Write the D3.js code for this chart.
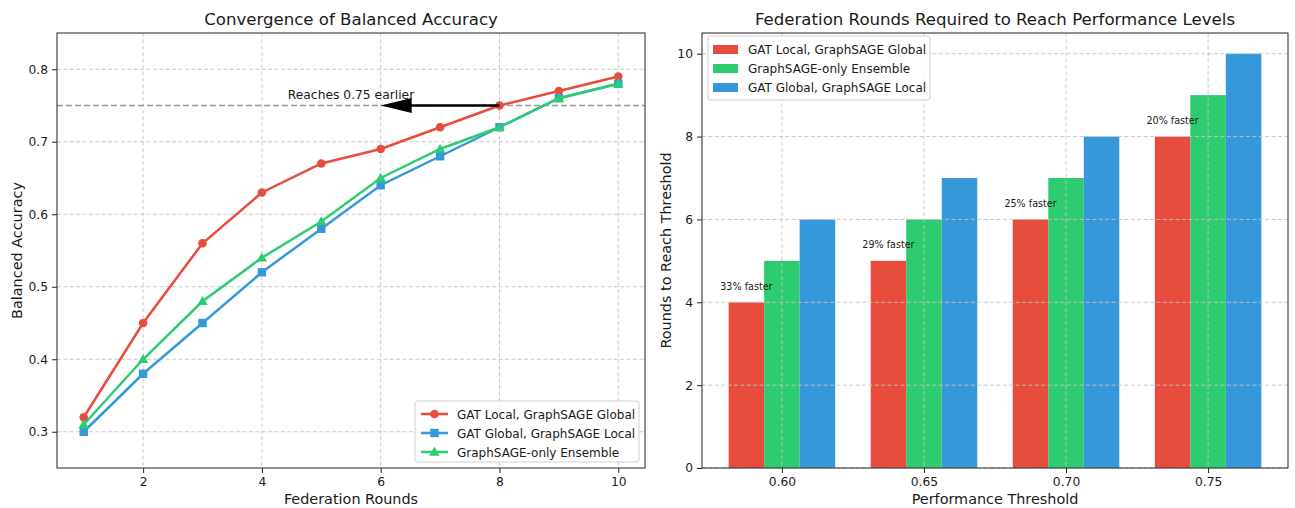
<!DOCTYPE html>
<html>
<head>
<meta charset="utf-8">
<script src="https://cdn.jsdelivr.net/npm/d3@7"></script>
<style>
  html, body { margin: 0; padding: 0; background: #fff; }
  svg { display: block; font-family: "DejaVu Sans", sans-serif; }
</style>
</head>
<body>
<svg id="chart" width="1295" height="508"></svg>
<script>
// ---------- Data ----------
const rounds = [1, 2, 3, 4, 5, 6, 7, 8, 9, 10];
const gatLocalAcc = [0.32, 0.45, 0.56, 0.63, 0.67, 0.69, 0.72, 0.75, 0.77, 0.79];
const gatGlobalAcc = [0.30, 0.38, 0.45, 0.52, 0.58, 0.64, 0.68, 0.72, 0.76, 0.78];
const sageOnlyAcc = [0.31, 0.40, 0.48, 0.54, 0.59, 0.65, 0.69, 0.72, 0.76, 0.78];
const lineSeriesNames = ["GAT Local, GraphSAGE Global", "GAT Global, GraphSAGE Local", "GraphSAGE-only Ensemble"];
const leftXTicks = [2, 4, 6, 8, 10];
const leftYTicks = [0.3, 0.4, 0.5, 0.6, 0.7, 0.8];
const targetAcc = 0.75;
const annotationText = "Reaches 0.75 earlier";
const arrowFrom = 8, arrowTo = 6;

const thresholds = ["0.60", "0.65", "0.70", "0.75"];
const barSeriesNames = ["GAT Local, GraphSAGE Global", "GraphSAGE-only Ensemble", "GAT Global, GraphSAGE Local"];
const gatLocalRounds = [4, 5, 6, 8];
const sageOnlyRounds = [5, 6, 7, 9];
const gatGlobalRounds = [6, 7, 8, 10];
const speedupLabels = ["33% faster", "29% faster", "25% faster", "20% faster"];
const rightYTicks = [0, 2, 4, 6, 8, 10];

const RED = "#e74c3c", BLUE = "#3498db", GREEN = "#2ecc71";
const svg = d3.select("#chart");
const GRID = "#c4c4c4";
const TXT = "#1a1a1a";

function grid(g, lines, horiz, x0, x1) {
  lines.forEach(v => {
    if (horiz) g.append("line").attr("x1", x0).attr("x2", x1).attr("y1", v).attr("y2", v);
    else g.append("line").attr("y1", x0).attr("y2", x1).attr("x1", v).attr("x2", v);
  });
  g.selectAll("line").attr("stroke", GRID).attr("stroke-width", 0.9).attr("stroke-dasharray", "4,2.4");
}

function styleAxis(g) {
  g.select(".domain").remove();
  g.selectAll(".tick line").attr("stroke", "#222").attr("stroke-width", 1);
  g.selectAll(".tick text").attr("fill", TXT).style("font-size", "12.3px").style("font-family", "DejaVu Sans, sans-serif");
}

// ---------- Left chart ----------
const L = { x0: 57, x1: 645, y0: 33, y1: 468 };
const xL = d3.scaleLinear().domain([0.55, 10.45]).range([L.x0, L.x1]);
const yL = d3.scaleLinear().domain([0.25, 0.85]).range([L.y1, L.y0]);

const gl = svg.append("g");
const gridL = gl.append("g");
grid(gridL, leftXTicks.map(xL), false, L.y0, L.y1);
const gridL2 = gl.append("g");
grid(gridL2, leftYTicks.map(yL), true, L.x0, L.x1);

// threshold line
gl.append("line").attr("x1", L.x0).attr("x2", L.x1).attr("y1", yL(targetAcc)).attr("y2", yL(targetAcc))
  .attr("stroke", "#999").attr("stroke-width", 1.6).attr("stroke-dasharray", "6,3");

const lineGen = d3.line().x((d, i) => xL(rounds[i])).y(d => yL(d));
const lineData = [
  { vals: gatLocalAcc, color: RED, marker: "circle" },
  { vals: gatGlobalAcc, color: BLUE, marker: "square" },
  { vals: sageOnlyAcc, color: GREEN, marker: "triangle" }
];
function drawMarker(g, type, cx, cy, color) {
  if (type === "circle") g.append("circle").attr("cx", cx).attr("cy", cy).attr("r", 4.3).attr("fill", color);
  else if (type === "square") g.append("rect").attr("x", cx - 4.2).attr("y", cy - 4.2).attr("width", 8.4).attr("height", 8.4).attr("fill", color);
  else g.append("path").attr("d", d3.symbol(d3.symbolTriangle, 48)()).attr("transform", `translate(${cx},${cy + 0.8})`).attr("fill", color);
}
lineData.forEach(s => {
  gl.append("path").attr("d", lineGen(s.vals)).attr("fill", "none").attr("stroke", s.color).attr("stroke-width", 2.5);
  s.vals.forEach((v, i) => drawMarker(gl, s.marker, xL(rounds[i]), yL(v), s.color));
});

// annotation arrow
const ay = yL(targetAcc);
const tipX = xL(arrowTo);
gl.append("line").attr("x1", xL(arrowFrom)).attr("x2", tipX + 28).attr("y1", ay).attr("y2", ay)
  .attr("stroke", "#000").attr("stroke-width", 2.6);
gl.append("path").attr("d", `M${tipX},${ay} L${tipX + 31},${ay - 7.5} L${tipX + 31},${ay + 7.5} Z`).attr("fill", "#000");
gl.append("text").attr("x", xL(5.5)).attr("y", ay - 6.5).attr("text-anchor", "middle")
  .style("font-size", "12.3px").attr("fill", TXT).text(annotationText);

// frame
gl.append("rect").attr("x", L.x0).attr("y", L.y0).attr("width", L.x1 - L.x0).attr("height", L.y1 - L.y0)
  .attr("fill", "none").attr("stroke", "#222").attr("stroke-width", 1);

// axes
const axLx = gl.append("g").attr("transform", `translate(0,${L.y1})`)
  .call(d3.axisBottom(xL).tickValues(leftXTicks).tickSize(5).tickPadding(4).tickFormat(d3.format("d")));
styleAxis(axLx);
const axLy = gl.append("g").attr("transform", `translate(${L.x0},0)`)
  .call(d3.axisLeft(yL).tickValues(leftYTicks).tickSize(5).tickPadding(4).tickFormat(d3.format(".1f")));
styleAxis(axLy);

gl.append("text").attr("x", (L.x0 + L.x1) / 2).attr("y", 25).attr("text-anchor", "middle")
  .style("font-size", "16.6px").attr("fill", TXT).text("Convergence of Balanced Accuracy");
gl.append("text").attr("x", (L.x0 + L.x1) / 2).attr("y", 504).attr("text-anchor", "middle")
  .style("font-size", "14.4px").attr("fill", TXT).text("Federation Rounds");
gl.append("text").attr("transform", `translate(22,${(L.y0 + L.y1) / 2}) rotate(-90)`).attr("text-anchor", "middle")
  .style("font-size", "14.4px").attr("fill", TXT).text("Balanced Accuracy");

// left legend
const lg = gl.append("g");
lg.append("rect").attr("x", 415).attr("y", 401).attr("width", 224).attr("height", 61).attr("rx", 3)
  .attr("fill", "#fff").attr("fill-opacity", 0.85).attr("stroke", "#d0d0d0").attr("stroke-width", 1);
lineData.forEach((s, i) => {
  const yy = 414 + i * 19;
  lg.append("line").attr("x1", 421).attr("x2", 448).attr("y1", yy).attr("y2", yy).attr("stroke", s.color).attr("stroke-width", 2.5);
  drawMarker(lg, s.marker, 434.5, yy, s.color);
  lg.append("text").attr("x", 457).attr("y", yy + 4.5).style("font-size", "12px").attr("fill", TXT).text(lineSeriesNames[i]);
});

// ---------- Right chart ----------
const R = { x0: 702, x1: 1288, y0: 33, y1: 468 };
const xR = d3.scaleLinear().domain([-0.5625, 3.5625]).range([R.x0, R.x1]);
const yR = d3.scaleLinear().domain([0, 10.5]).range([R.y1, R.y0]);
const gr = svg.append("g");

const barData = [
  { vals: gatLocalRounds, color: RED, off: -0.25 },
  { vals: sageOnlyRounds, color: GREEN, off: 0 },
  { vals: gatGlobalRounds, color: BLUE, off: 0.25 }
];
const bw = 0.25;
barData.forEach(s => {
  s.vals.forEach((v, i) => {
    const xa = xR(i + s.off - bw / 2), xb = xR(i + s.off + bw / 2);
    gr.append("rect").attr("x", xa).attr("width", xb - xa).attr("y", yR(v)).attr("height", yR(0) - yR(v))
      .attr("fill", s.color);
  });
});

const gridR = gr.append("g");
grid(gridR, thresholds.map((d, i) => xR(i)), false, R.y0, R.y1);
const gridR2 = gr.append("g");
grid(gridR2, rightYTicks.map(yR), true, R.x0, R.x1);

speedupLabels.forEach((t, i) => {
  gr.append("text").attr("x", xR(i - 0.25)).attr("y", yR(gatLocalRounds[i] + 0.3)).attr("text-anchor", "middle")
    .style("font-size", "9.6px").attr("fill", TXT).text(t);
});

gr.append("rect").attr("x", R.x0).attr("y", R.y0).attr("width", R.x1 - R.x0).attr("height", R.y1 - R.y0)
  .attr("fill", "none").attr("stroke", "#222").attr("stroke-width", 1);

const axRx = gr.append("g").attr("transform", `translate(0,${R.y1})`)
  .call(d3.axisBottom(xR).tickValues([0, 1, 2, 3]).tickSize(5).tickPadding(4).tickFormat(i => thresholds[i]));
styleAxis(axRx);
const axRy = gr.append("g").attr("transform", `translate(${R.x0},0)`)
  .call(d3.axisLeft(yR).tickValues(rightYTicks).tickSize(5).tickPadding(4).tickFormat(d3.format("d")));
styleAxis(axRy);

gr.append("text").attr("x", (R.x0 + R.x1) / 2).attr("y", 25).attr("text-anchor", "middle")
  .style("font-size", "16.6px").attr("fill", TXT).text("Federation Rounds Required to Reach Performance Levels");
gr.append("text").attr("x", (R.x0 + R.x1) / 2).attr("y", 504).attr("text-anchor", "middle")
  .style("font-size", "14.4px").attr("fill", TXT).text("Performance Threshold");
gr.append("text").attr("transform", `translate(671,${(R.y0 + R.y1) / 2}) rotate(-90)`).attr("text-anchor", "middle")
  .style("font-size", "14.4px").attr("fill", TXT).text("Rounds to Reach Threshold");

// right legend
const rg = gr.append("g");
rg.append("rect").attr("x", 708).attr("y", 36).attr("width", 222).attr("height", 64).attr("rx", 3)
  .attr("fill", "#fff").attr("fill-opacity", 0.85).attr("stroke", "#d0d0d0").attr("stroke-width", 1);
barData.forEach((s, i) => {
  const yy = 49.5 + i * 19;
  rg.append("rect").attr("x", 713).attr("y", yy - 4.5).attr("width", 25).attr("height", 9).attr("fill", s.color);
  rg.append("text").attr("x", 748).attr("y", yy + 4.5).style("font-size", "12px").attr("fill", TXT).text(barSeriesNames[i]);
});
</script>
</body>
</html>
